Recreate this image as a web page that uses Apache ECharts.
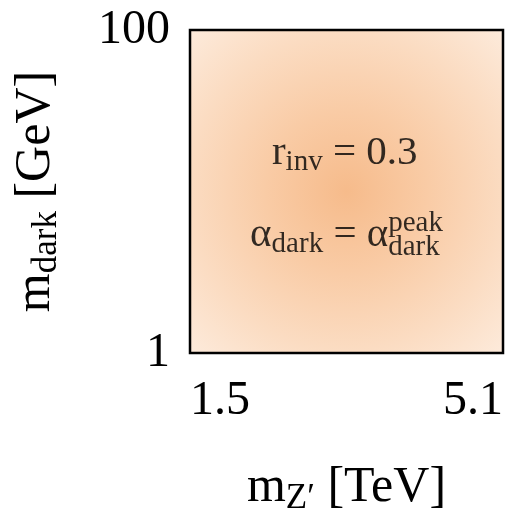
<!DOCTYPE html>
<html>
<head>
<meta charset="utf-8">
<script src="https://cdn.jsdelivr.net/npm/echarts@6/dist/echarts.min.js"></script>
<style>html,body{margin:0;padding:0;background:#fff;}#c{width:512px;height:516px;}</style>
</head>
<body>
<div id="c"></div>
<script>
// axis ranges and tick labels
var xRange = [1.5, 5.1];
var yRange = [1, 100];
var xTicks = [1.5, 5.1];
var yTicks = [1, 100];
// annotation anchors (data coordinates)
var line1Pos = [3.28, 17.3];
var line2Pos = [3.78, 5.38];

var FONT = '"Liberation Serif", "DejaVu Serif", serif';
var richBase = {
  m: { fontFamily: FONT, fontSize: 41, color: '#000' },
  s: { fontFamily: FONT, fontSize: 29, color: '#000', padding: [18, 0, 0, 0] },
  M: { fontFamily: FONT, fontSize: 50, color: '#000' },
  S: { fontFamily: FONT, fontSize: 35, color: '#000', padding: [22, 0, 0, 0] }
};

var chart = echarts.init(document.getElementById('c'), null, { renderer: 'canvas' });
chart.setOption({
  animation: false,
  grid: {
    left: 190, right: 9, top: 30, bottom: 163,
    outerBoundsMode: 'none',
    containLabel: false,
    show: true,
    borderColor: '#000',
    borderWidth: 2.5,
    backgroundColor: {
      type: 'radial', x: 0.5, y: 0.5, r: 0.72,
      colorStops: [
        { offset: 0, color: '#f6bb8b' },
        { offset: 0.35, color: '#f9cba5' },
        { offset: 0.7, color: '#fbdcc2' },
        { offset: 1, color: '#fdebdc' }
      ]
    }
  },
  xAxis: {
    type: 'value', min: xRange[0], max: xRange[1],
    axisLine: { show: false }, axisTick: { show: false }, splitLine: { show: false },
    axisLabel: {
      customValues: xTicks, margin: 24,
      fontFamily: FONT, fontSize: 48, color: '#000',
      alignMinLabel: 'left', alignMaxLabel: 'right',
      formatter: function (v) { return v.toFixed(1); }
    },
    name: '{M|m}{S|Z′}{M| [TeV]}',
    nameLocation: 'middle', nameGap: 106,
    nameTextStyle: { rich: richBase }
  },
  yAxis: {
    type: 'log', logBase: 10, min: yRange[0], max: yRange[1],
    axisLine: { show: false }, axisTick: { show: false }, splitLine: { show: false },
    axisLabel: {
      customValues: yTicks, margin: 20,
      fontFamily: FONT, fontSize: 48, color: '#000',
      formatter: function (v) { return String(Math.round(v)); }
    },
    name: '{M|m}{S|dark}{M| [GeV]}',
    nameLocation: 'middle', nameGap: 126,
    nameTextStyle: { rich: richBase }
  },
  series: [
    {
      type: 'scatter', symbolSize: 0, silent: true,
      data: [line1Pos],
      label: {
        show: true, position: 'inside', align: 'center', verticalAlign: 'middle',
        color: '#000', textBorderWidth: 0,
        formatter: '{m|r}{s|inv}{m| = 0.3}',
        rich: richBase
      }
    },
    {
      type: 'scatter', symbolSize: 0, silent: true,
      data: [line2Pos],
      label: {
        show: true, position: 'inside', align: 'right', verticalAlign: 'middle',
        color: '#000', textBorderWidth: 0,
        formatter: '{m|α}{s|dark}{m| = α}',
        rich: richBase
      }
    },
    {
      type: 'scatter', symbolSize: 0, silent: true,
      data: [line2Pos],
      label: {
        show: true, position: 'inside', align: 'left', verticalAlign: 'middle',
        color: '#000', textBorderWidth: 0,
        formatter: '{t|peak}\n{t|dark}',
        rich: { t: { fontFamily: FONT, fontSize: 29, lineHeight: 24, color: '#000' } }
      }
    }
  ]
});
</script>
</body>
</html>
